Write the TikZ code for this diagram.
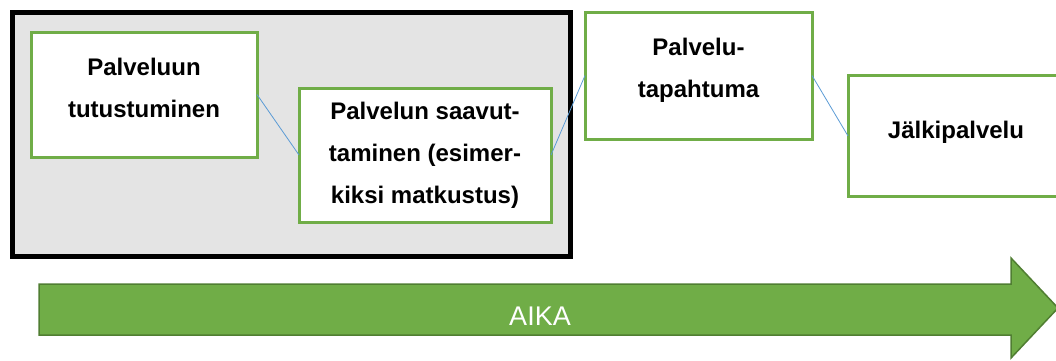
\documentclass[tikz,border=0pt]{standalone}
\usepackage{fontspec}
\setmainfont{Liberation Sans}
\definecolor{boxgreen}{HTML}{70AD47}
\definecolor{arrowedge}{HTML}{507E32}
\definecolor{connblue}{HTML}{5B9BD5}
\definecolor{panelgray}{HTML}{E4E4E4}
\begin{document}
\begin{tikzpicture}[x=1pt,y=-1pt,
  stagebox/.style={draw=boxgreen,line width=3pt,fill=white,inner sep=0pt,outer sep=0pt},
  stagetext/.style={align=center,inner sep=0pt,font=\fontsize{24}{42}\selectfont\bfseries},
  conn/.style={draw=connblue,line width=0.8pt},
  panel/.style={draw=black,line width=5pt,fill=panelgray}]
\useasboundingbox (0,0) rectangle (1056,360);
% grey panel
\draw[panel] (12.5,12) rectangle (570,256.5);
% boxes
\node[stagebox,minimum width=226pt,minimum height=125pt] (b1) at (144,94.5) {};
\node[stagebox,minimum width=252pt,minimum height=134pt] (b2) at (425,155) {};
\node[stagebox,minimum width=227pt,minimum height=127pt] (b3) at (698.5,75.5) {};
\node[stagebox,minimum width=217pt,minimum height=121.5pt] (b4) at (956.5,136) {};
% texts
\node[stagetext] (t1) at (144,88.3) {Palveluun\\tutustuminen};
\node[stagetext] (t2) at (425,155.3) {Palvelun saavut-\\taminen (esimer-\\kiksi matkustus)};
\node[stagetext] (t3) at (698.5,70.3) {Palvelu-\\tapahtuma};
\node[stagetext] (t4) at (956,131.8) {Jälkipalvelu};
% connectors
\draw[conn] (b1.east) -- (b2.west);
\draw[conn] (b2.east) -- (b3.west);
\draw[conn] (b3.east) -- (b4.west);
% time arrow
\draw[fill=boxgreen,draw=arrowedge,line width=1.5pt,line join=miter]
  (39,284) -- (1011,284) -- (1011,258) -- (1058,308) -- (1011,358) -- (1011,335) -- (39,335) -- cycle;
\node[anchor=base,inner sep=0pt,text=white,font=\fontsize{27}{32}\selectfont] (aika) at (540,325) {AIKA};
\end{tikzpicture}
\end{document}
